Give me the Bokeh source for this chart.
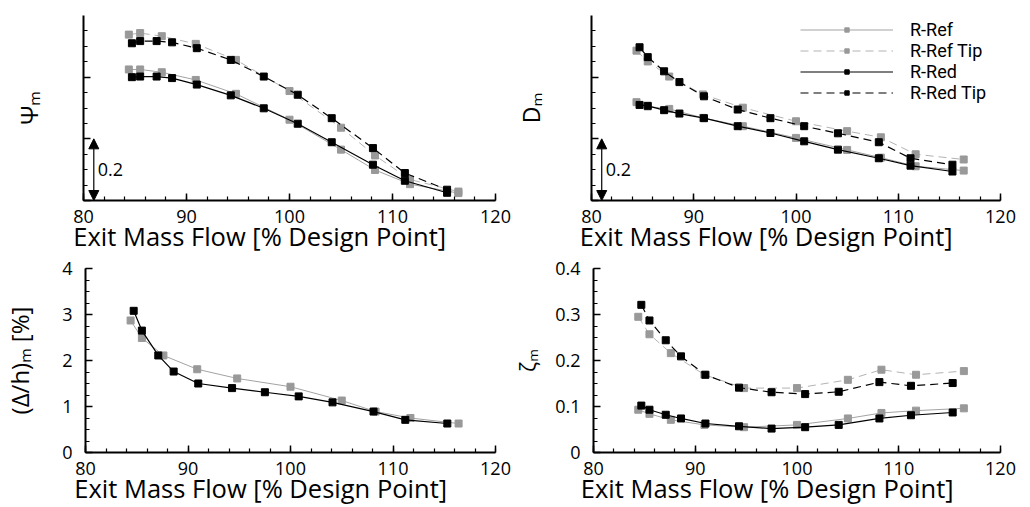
from bokeh.plotting import figure
from bokeh.layouts import column, row
from bokeh.models import (Range1d, SingleIntervalTicker, CustomJSTickFormatter, Label,
                          Arrow, NormalHead, Legend, LegendItem)
from bokeh.embed import file_html
from bokeh.resources import INLINE

# ---------------- data ----------------
x_ref = [84.4, 85.5, 87.6, 90.9, 94.8, 100.0, 105.0, 108.3, 111.7, 116.4]
x_red = [84.7, 85.5, 87.1, 88.6, 91.0, 94.3, 97.5, 100.8, 104.1, 108.1, 111.2, 115.3]

psi_ref = [0.425, 0.425, 0.416, 0.391, 0.346, 0.262, 0.165, 0.099, 0.053, 0.024]
psi_red = [0.400, 0.402, 0.402, 0.397, 0.376, 0.341, 0.299, 0.249, 0.189, 0.116, 0.064, 0.025]
psi_ref_tip = [0.538, 0.543, 0.533, 0.508, 0.456, 0.355, 0.236, 0.146, 0.068, 0.029]
psi_red_tip = [0.510, 0.517, 0.517, 0.513, 0.494, 0.456, 0.402, 0.343, 0.267, 0.170, 0.089, 0.035]

d_ref = [0.319, 0.305, 0.297, 0.268, 0.241, 0.203, 0.164, 0.139, 0.111, 0.097]
d_red = [0.310, 0.307, 0.293, 0.282, 0.267, 0.241, 0.219, 0.192, 0.165, 0.137, 0.113, 0.094]
d_ref_tip = [0.486, 0.451, 0.402, 0.344, 0.301, 0.257, 0.225, 0.205, 0.150, 0.133]
d_red_tip = [0.497, 0.465, 0.419, 0.384, 0.338, 0.295, 0.267, 0.241, 0.218, 0.189, 0.137, 0.116]

dh_ref = [2.87, 2.49, 2.11, 1.81, 1.61, 1.43, 1.13, 0.89, 0.75, 0.63]
dh_red = [3.08, 2.65, 2.11, 1.76, 1.50, 1.40, 1.31, 1.22, 1.09, 0.89, 0.71, 0.63]

z_ref = [0.093, 0.084, 0.071, 0.060, 0.055, 0.060, 0.074, 0.086, 0.091, 0.096]
z_red = [0.102, 0.093, 0.082, 0.074, 0.063, 0.057, 0.052, 0.055, 0.060, 0.074, 0.081, 0.087]
z_ref_tip = [0.295, 0.257, 0.216, 0.169, 0.140, 0.140, 0.158, 0.180, 0.169, 0.177]
z_red_tip = [0.321, 0.287, 0.244, 0.209, 0.169, 0.141, 0.131, 0.127, 0.132, 0.153, 0.145, 0.151]

series_names = ["R-Ref", "R-Ref Tip", "R-Red", "R-Red Tip"]
x_label = "Exit Mass Flow [% Design Point]"
y_labels = ["Ψₘ", "Dₘ", "(Δ/h)ₘ [%]", "ζₘ"]
scale_bar = 0.2

# ---------------- style ----------------
FONT = "Open Sans"
LEG_FONT = "Roboto"
GRAY_LINE = "#a3a3a3"
GRAY_DASH = "#b3b3b3"
GRAY_MARK = "#999999"
BLACK = "#000000"
DASH = "8 5"
PAD = "\u00a0" * 9   # shifts the centred x title slightly left, as in the original
NAN = float("nan")


def make_fig(width, height, left, right, top, bottom, y_end, y_int, hide_y,
             ylabel, ylabel_size, ylabel_standoff, tick_standoff=13):
    p = figure(width=width, height=height, x_range=Range1d(80, 120), y_range=Range1d(0, y_end),
               output_backend="svg", toolbar_location=None,
               min_border_left=left, min_border_right=right,
               min_border_top=top, min_border_bottom=bottom)
    p.outline_line_color = None
    p.grid.visible = False
    p.background_fill_color = "white"
    p.border_fill_color = "white"
    xa = p.xaxis[0]
    ya = p.yaxis[0]
    xa.ticker = SingleIntervalTicker(interval=10, num_minor_ticks=5)
    ya.ticker = SingleIntervalTicker(interval=y_int, num_minor_ticks=4)
    for ax in (xa, ya):
        ax.axis_line_width = 2
        ax.axis_line_color = BLACK
        ax.major_tick_in = 7
        ax.major_tick_out = 0
        ax.minor_tick_in = 4
        ax.minor_tick_out = 0
        ax.major_tick_line_width = 1.5
        ax.minor_tick_line_width = 1.2
        ax.major_tick_line_color = BLACK
        ax.minor_tick_line_color = BLACK
        ax.major_label_text_font = FONT
        ax.major_label_text_font_size = "18px"
        ax.major_label_text_color = BLACK
        ax.axis_label_text_font = FONT
        ax.axis_label_text_font_style = "normal"
        ax.axis_label_text_color = BLACK
    xa.axis_label = x_label + PAD
    xa.axis_label_text_font_size = "25.5px"
    xa.major_label_standoff = 9
    xa.axis_label_standoff = -7
    ya.axis_label = ylabel
    ya.axis_label_text_font_size = ylabel_size
    ya.axis_label_standoff = ylabel_standoff
    if hide_y:
        ya.formatter = CustomJSTickFormatter(code="return ''")
        ya.major_label_standoff = 0
    else:
        ya.major_label_standoff = tick_standoff
    return p


def add_series(p, xs, ys, color_line, color_mark, dash, lw, size=7):
    ln = p.line(xs, ys, line_color=color_line, line_width=lw, line_dash=dash)
    sc = p.scatter(xs, ys, marker="square", size=size, fill_color=color_mark, line_color=color_mark)
    return [ln, sc]


def add_scale_bar(p):
    p.add_layout(Arrow(x_start=81, y_start=0, x_end=81, y_end=scale_bar,
                       start=NormalHead(size=10, fill_color=BLACK, line_color=BLACK),
                       end=NormalHead(size=10, fill_color=BLACK, line_color=BLACK),
                       line_width=1.2, line_color=BLACK))
    p.add_layout(Label(x=81, y=scale_bar / 2, x_offset=4, text=str(scale_bar),
                       text_baseline="middle", text_align="left",
                       text_font=FONT, text_font_size="18px", text_color=BLACK))


STYLES = [(GRAY_LINE, GRAY_MARK, "solid", 1.0),
          (GRAY_DASH, GRAY_MARK, DASH, 1.0),
          (BLACK, BLACK, "solid", 1.2),
          (BLACK, BLACK, DASH, 1.2)]


def four_series(p, a, b, c, d):
    xs_list = [x_ref, x_ref, x_red, x_red]
    for xs, ys, st in zip(xs_list, [a, b, c, d], STYLES):
        add_series(p, xs, ys, *st)


# top-left: Psi
p1 = make_fig(511, 255, 83, 16, 15, 55, 0.6, 0.2, True, y_labels[0], "24px", 39)
four_series(p1, psi_ref, psi_ref_tip, psi_red, psi_red_tip)
add_scale_bar(p1)

# top-right: D
p2 = make_fig(519, 255, 77, 30, 15, 55, 0.6, 0.2, True, y_labels[1], "23px", 45)
four_series(p2, d_ref, d_ref_tip, d_red, d_red_tip)
add_scale_bar(p2)
# legend key swatches: undrawn (NaN) renderers with the smaller key markers of the original
leg_rends = [add_series(p2, [NAN], [NAN], *st, size=4.5) for st in STYLES]
legend = Legend(items=[LegendItem(label=n, renderers=r, index=0) for n, r in zip(series_names, leg_rends)],
                location=(209, 97))
legend.glyph_width = 93
legend.glyph_height = 11
legend.label_height = 21
legend.label_standoff = 17
legend.spacing = 0
legend.padding = 0
legend.margin = 0
legend.border_line_color = None
legend.background_fill_alpha = 0
legend.label_text_font = LEG_FONT
legend.label_text_font_size = "18px"
legend.label_text_color = BLACK
p2.add_layout(legend)

# bottom-left: delta/h
p3 = make_fig(511, 252, 83, 16, 13, 55, 4, 1, False, y_labels[2], "24px", 23)
add_series(p3, x_ref, dh_ref, *STYLES[0])
add_series(p3, x_red, dh_red, *STYLES[2])

# bottom-right: zeta
p4 = make_fig(519, 252, 77, 30, 13, 55, 0.4, 0.1, False, y_labels[3], "21px", 10)
p4.yaxis[0].major_label_overrides = {0: "0"}
four_series(p4, z_ref, z_ref_tip, z_red, z_red_tip)

layout = column(row(p1, p2), row(p3, p4))
layout.spacing = 0
open("out.html", "w").write(file_html(layout, INLINE))
